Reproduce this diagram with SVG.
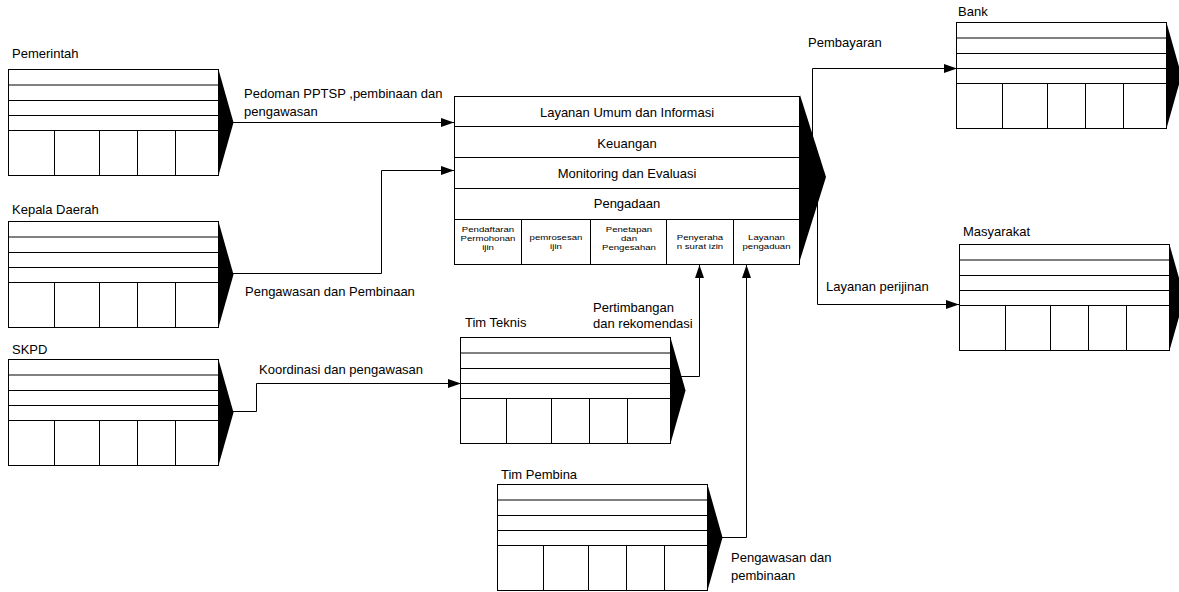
<svg xmlns="http://www.w3.org/2000/svg" xmlns:xlink="http://www.w3.org/1999/xlink" width="1179" height="592" viewBox="0 0 1179 592">
<style>
text{font-family:"Liberation Sans",Arial,sans-serif;fill:#000}
.lb{font-size:13px}
.mid{font-size:13px;text-anchor:middle}
.sm{font-size:8px;text-anchor:middle}
.ln{fill:none;stroke:#000;stroke-width:1}
.cn{fill:none;stroke:#000;stroke-width:1;marker-end:url(#ah)}
</style>
<defs>
<marker id="ah" markerUnits="userSpaceOnUse" markerWidth="13" markerHeight="9" refX="13" refY="4.5" orient="auto">
<path d="M0 0L13 4.5L0 9Z" fill="#000"/>
</marker>
<g id="bx">
<rect x="0" y="0" width="210" height="106" fill="#fff" stroke="#000" stroke-width="1"/>
<path class="ln" d="M0 15.5H210M0 31H210M0 46H210M0 61H210M46 61V106M91 61V106M129 61V106M167 61V106"/>
<path d="M210 0L225 53L210 106Z" fill="#000"/>
</g>
</defs>
<rect width="1179" height="592" fill="#fff"/>
<g id="connectors">
<path class="cn" d="M228 122.5H454"/>
<path class="cn" d="M232 273.5H381.5V170.5H454"/>
<path class="cn" d="M228 411.5H256.5V383.5H461"/>
<path class="cn" d="M681 376.5H699.5V265"/>
<path class="cn" d="M718 537.5H746.5V265"/>
<path class="cn" d="M812.5 140V68.5H957"/>
<path class="cn" d="M817.5 200V304.5H959"/>
<text class="lb" x="244" y="98">Pedoman PPTSP ,pembinaan dan</text>
<text class="lb" x="244" y="116">pengawasan</text>
<text class="lb" x="245" y="296">Pengawasan dan Pembinaan</text>
<text class="lb" x="259" y="374">Koordinasi dan pengawasan</text>
<text class="lb" x="593" y="312">Pertimbangan</text>
<text class="lb" x="593" y="327.5">dan rekomendasi</text>
<text class="lb" x="731" y="562">Pengawasan dan</text>
<text class="lb" x="731" y="580">pembinaan</text>
<text class="lb" x="808" y="47">Pembayaran</text>
<text class="lb" x="826" y="291">Layanan perijinan</text>
</g>
<g id="pemerintah">
<use xlink:href="#bx" href="#bx" transform="translate(8.5,69.5)"/>
<text class="lb" x="12" y="58">Pemerintah</text>
</g>
<g id="kepala-daerah">
<use xlink:href="#bx" href="#bx" transform="translate(8.5,221.5)"/>
<text class="lb" x="12" y="214">Kepala Daerah</text>
</g>
<g id="skpd">
<use xlink:href="#bx" href="#bx" transform="translate(8.5,359.5)"/>
<text class="lb" x="12" y="354">SKPD</text>
</g>
<g id="tim-teknis">
<use xlink:href="#bx" href="#bx" transform="translate(460.5,337.5)"/>
<text class="lb" x="465" y="326.5">Tim Teknis</text>
</g>
<g id="tim-pembina">
<use xlink:href="#bx" href="#bx" transform="translate(497.5,484.5)"/>
<text class="lb" x="501" y="479">Tim Pembina</text>
</g>
<g id="bank">
<use xlink:href="#bx" href="#bx" transform="translate(956.5,22.5)"/>
<text class="lb" x="958" y="16">Bank</text>
</g>
<g id="masyarakat">
<use xlink:href="#bx" href="#bx" transform="translate(959.5,244.5)"/>
<text class="lb" x="963" y="235.5">Masyarakat</text>
</g>
<g id="pusat">
<rect x="454.5" y="96.5" width="345" height="168" fill="#fff" stroke="#000" stroke-width="1"/>
<path class="ln" d="M454.5 126.5H799.5M454.5 157.5H799.5M454.5 188.5H799.5M454.5 219.5H799.5M521.5 219.5V264.5M590.5 219.5V264.5M666.5 219.5V264.5M733.5 219.5V264.5"/>
<path d="M800 95L826 177L800 260Z" fill="#000"/>
<text class="mid" x="627" y="117">Layanan Umum dan Informasi</text>
<text class="mid" x="627" y="147.5">Keuangan</text>
<text class="mid" x="627" y="177.5">Monitoring dan Evaluasi</text>
<text class="mid" x="627" y="208">Pengadaan</text>
<g transform="scale(1.2,1)">
<text class="sm" x="406.67" y="232">Pendaftaran</text>
<text class="sm" x="406.67" y="241">Permohonan</text>
<text class="sm" x="406.67" y="250">ijin</text>
<text class="sm" x="463.33" y="240.5">pemrosesan</text>
<text class="sm" x="463.33" y="249.5">ijin</text>
<text class="sm" x="524.17" y="232">Penetapan</text>
<text class="sm" x="524.17" y="241">dan</text>
<text class="sm" x="524.17" y="250">Pengesahan</text>
<text class="sm" x="583.33" y="240">Penyeraha</text>
<text class="sm" x="583.33" y="249">n surat izin</text>
<text class="sm" x="638.75" y="240">Layanan</text>
<text class="sm" x="638.75" y="249">pengaduan</text>
</g>
</g>
</svg>
